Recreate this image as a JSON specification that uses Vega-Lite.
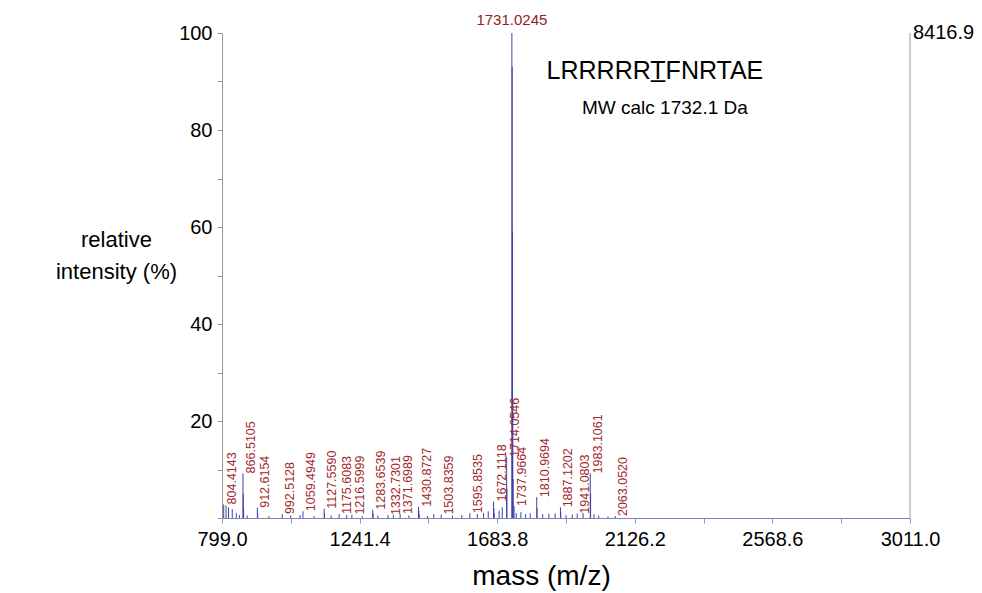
{
  "$schema": "https://vega.github.io/schema/vega-lite/v6.json",
  "autosize": {"type": "none"},
  "width": 688,
  "height": 485,
  "padding": {"left": 222, "top": 33, "right": 72, "bottom": 75},
  "background": "white",
  "config": {
    "view": {"stroke": null},
    "font": "Arial, Liberation Sans, sans-serif"
  },
  "datasets": {
    "peaks": [
      {"mass": 804.4143, "intensity": 2.8, "label": "804.4143"},
      {"mass": 866.5105, "intensity": 9.2, "label": "866.5105"},
      {"mass": 912.6154, "intensity": 2.1, "label": "912.6154"},
      {"mass": 992.5128, "intensity": 0.8, "label": "992.5128"},
      {"mass": 1059.4949, "intensity": 1.4, "label": "1059.4949"},
      {"mass": 1127.559, "intensity": 1.9, "label": "1127.5590"},
      {"mass": 1175.6083, "intensity": 0.8, "label": "1175.6083"},
      {"mass": 1216.5999, "intensity": 0.7, "label": "1216.5999"},
      {"mass": 1283.6539, "intensity": 1.7, "label": "1283.6539"},
      {"mass": 1332.7301, "intensity": 0.6, "label": "1332.7301"},
      {"mass": 1371.6989, "intensity": 0.8, "label": "1371.6989"},
      {"mass": 1430.8727, "intensity": 2.3, "label": "1430.8727"},
      {"mass": 1503.8359, "intensity": 0.7, "label": "1503.8359"},
      {"mass": 1595.8535, "intensity": 1.0, "label": "1595.8535"},
      {"mass": 1672.1118, "intensity": 3.4, "label": "1672.1118"},
      {"mass": 1714.0546, "intensity": 12.6, "label": "1714.0546"},
      {"mass": 1731.0245, "intensity": 100, "label": "1731.0245"},
      {"mass": 1737.9664, "intensity": 2.5, "label": "1737.9664"},
      {"mass": 1810.9694, "intensity": 4.3, "label": "1810.9694"},
      {"mass": 1887.1202, "intensity": 2.2, "label": "1887.1202"},
      {"mass": 1941.0803, "intensity": 0.9, "label": "1941.0803"},
      {"mass": 1983.1061, "intensity": 9.2, "label": "1983.1061"},
      {"mass": 2063.052, "intensity": 0.4, "label": "2063.0520"},
      {"mass": 1732.03, "intensity": 93},
      {"mass": 1733.03, "intensity": 59},
      {"mass": 1734.03, "intensity": 24},
      {"mass": 1735.03, "intensity": 8},
      {"mass": 867.5, "intensity": 5},
      {"mass": 868.5, "intensity": 2},
      {"mass": 1715.05, "intensity": 6},
      {"mass": 1984.1, "intensity": 5},
      {"mass": 1811.97, "intensity": 2},
      {"mass": 913.6, "intensity": 1},
      {"mass": 1128.5, "intensity": 1},
      {"mass": 1431.9, "intensity": 1.5},
      {"mass": 1432.9, "intensity": 0.8},
      {"mass": 1673.1, "intensity": 2},
      {"mass": 1674.1, "intensity": 1},
      {"mass": 1888.1, "intensity": 1.2},
      {"mass": 1284.6, "intensity": 1},
      {"mass": 812, "intensity": 2.6},
      {"mass": 820, "intensity": 2.2},
      {"mass": 832, "intensity": 1.8},
      {"mass": 845, "intensity": 1.0},
      {"mass": 855, "intensity": 0.6},
      {"mass": 880, "intensity": 0.5},
      {"mass": 950, "intensity": 0.4},
      {"mass": 1020, "intensity": 0.5},
      {"mass": 1050, "intensity": 0.6},
      {"mass": 1095, "intensity": 0.4},
      {"mass": 1150, "intensity": 0.5},
      {"mass": 1200, "intensity": 0.6},
      {"mass": 1250, "intensity": 0.4},
      {"mass": 1300, "intensity": 0.5},
      {"mass": 1350, "intensity": 0.6},
      {"mass": 1400, "intensity": 0.5},
      {"mass": 1460, "intensity": 0.4},
      {"mass": 1480, "intensity": 0.8},
      {"mass": 1540, "intensity": 0.5},
      {"mass": 1570, "intensity": 0.6},
      {"mass": 1620, "intensity": 0.8},
      {"mass": 1640, "intensity": 1.0},
      {"mass": 1655, "intensity": 1.4},
      {"mass": 1690, "intensity": 1.5},
      {"mass": 1700, "intensity": 2.2},
      {"mass": 1745, "intensity": 1.0},
      {"mass": 1760, "intensity": 1.2},
      {"mass": 1775, "intensity": 0.8},
      {"mass": 1790, "intensity": 1.0},
      {"mass": 1830, "intensity": 0.8},
      {"mass": 1850, "intensity": 0.9},
      {"mass": 1870, "intensity": 1.0},
      {"mass": 1905, "intensity": 0.6},
      {"mass": 1925, "intensity": 0.7},
      {"mass": 1960, "intensity": 1.0},
      {"mass": 1995, "intensity": 0.8},
      {"mass": 2010, "intensity": 0.5},
      {"mass": 2040, "intensity": 0.3}
    ]
  },
  "layer": [
    {
      "data": {"values": [{"mass": 3011, "intensity": 100, "text": "8416.9"}]},
      "mark": {"type": "rule", "color": "#9a9a9a", "strokeWidth": 1},
      "encoding": {
        "x": {"field": "mass", "type": "quantitative", "scale": {"domain": [799, 3011], "nice": false, "zero": false}},
        "y": {"field": "intensity", "type": "quantitative", "scale": {"domain": [0, 100], "nice": false}},
        "y2": {"datum": 0}
      }
    },
    {
      "data": {"values": [{"mass": 3011, "intensity": 100, "text": "8416.9"}]},
      "mark": {"type": "text", "align": "left", "baseline": "middle", "dx": 3, "fontSize": 20, "color": "black"},
      "encoding": {
        "x": {"field": "mass", "type": "quantitative"},
        "y": {"field": "intensity", "type": "quantitative"},
        "text": {"field": "text"}
      }
    },
    {
      "data": {"name": "peaks"},
      "mark": {"type": "rule", "color": "#3d42a8", "strokeWidth": 1},
      "encoding": {
        "x": {
          "field": "mass", "type": "quantitative",
          "scale": {"domain": [799, 3011], "nice": false, "zero": false},
          "axis": {
            "values": [799, 1020.2, 1241.4, 1462.6, 1683.8, 1905, 2126.2, 2347.4, 2568.6, 2789.8, 3011],
            "labelExpr": "abs((datum.value-799)/442.4 - round((datum.value-799)/442.4)) < 0.01 ? format(datum.value, '.1f') : ''",
            "labelFontSize": 20, "labelColor": "black", "labelPadding": 6,
            "labelOverlap": false, "labelBound": false, "labelFlush": false,
            "tickSize": 5, "tickColor": "#9a9a9a", "domainColor": "#7e83b8",
            "grid": false,
            "title": "mass (m/z)", "titleFontSize": 28, "titleFontWeight": "normal", "titleColor": "black",
            "titleX": 319, "titleY": 44, "titleAlign": "center", "titleBaseline": "top"
          }
        },
        "y": {
          "field": "intensity", "type": "quantitative",
          "scale": {"domain": [0, 100], "nice": false},
          "axis": {
            "values": [0, 5, 10, 15, 20, 25, 30, 35, 40, 45, 50, 55, 60, 65, 70, 75, 80, 85, 90, 95, 100],
            "labelExpr": "datum.value % 20 == 0 && datum.value > 0 ? datum.value : ''",
            "labelFontSize": 20, "labelColor": "black", "labelPadding": 5,
            "tickSize": 5, "tickColor": "#9a9a9a", "domainColor": "#9a9a9a",
            "grid": false,
            "title": ["relative", "intensity (%)"], "titleFontSize": 22, "titleFontWeight": "normal", "titleColor": "black",
            "titleAngle": 0, "titleX": -106, "titleY": 196, "titleAlign": "center", "titleBaseline": "top", "titleLineHeight": 32
          }
        },
        "y2": {"datum": 0}
      }
    },
    {
      "data": {"name": "peaks"},
      "transform": [{"filter": "datum.label && datum.intensity < 50"}],
      "mark": {"type": "text", "angle": 270, "align": "left", "baseline": "top", "dx": 0, "dy": 2, "fontSize": 12.5, "color": "#a1282c"},
      "encoding": {
        "x": {"field": "mass", "type": "quantitative"},
        "y": {"field": "intensity", "type": "quantitative"},
        "text": {"field": "label"}
      }
    },
    {
      "data": {"name": "peaks"},
      "transform": [{"filter": "datum.label && datum.intensity >= 50"}],
      "mark": {"type": "text", "align": "center", "baseline": "alphabetic", "dy": -8, "fontSize": 15, "color": "#8e1f22"},
      "encoding": {
        "x": {"field": "mass", "type": "quantitative"},
        "y": {"field": "intensity", "type": "quantitative"},
        "text": {"field": "label"}
      }
    },
    {
      "data": {"values": [{"mass": 2191, "intensity": 92.2, "text": "LRRRRRT\u0332FNRTAE"}]},
      "mark": {"type": "text", "align": "center", "baseline": "middle", "fontSize": 25, "color": "black"},
      "encoding": {
        "x": {"field": "mass", "type": "quantitative"},
        "y": {"field": "intensity", "type": "quantitative"},
        "text": {"field": "text"}
      }
    },
    {
      "data": {"values": [{"mass": 2223, "intensity": 84.5, "text": "MW calc 1732.1 Da"}]},
      "mark": {"type": "text", "align": "center", "baseline": "middle", "fontSize": 19, "color": "black"},
      "encoding": {
        "x": {"field": "mass", "type": "quantitative"},
        "y": {"field": "intensity", "type": "quantitative"},
        "text": {"field": "text"}
      }
    }
  ]
}
